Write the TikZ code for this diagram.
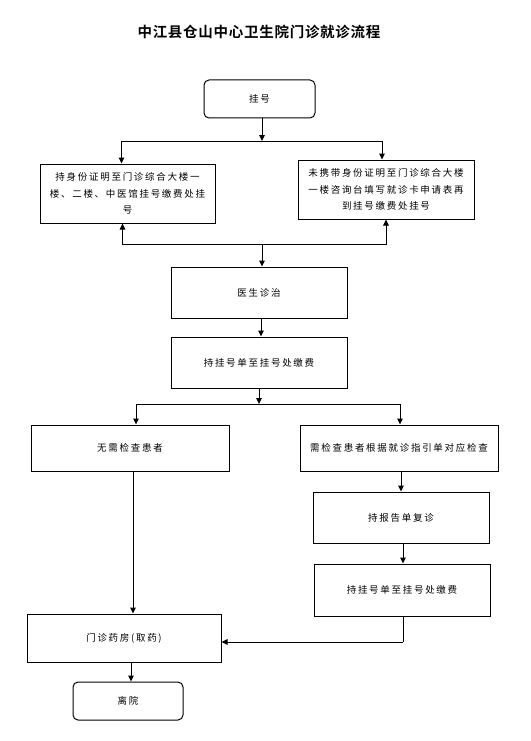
\documentclass[tikz,border=0pt]{standalone}
\usepackage{fontspec}
\usetikzlibrary{arrows.meta,calc}
\newfontfamily\cjk[LetterSpace=18]{Noto Sans CJK SC}
\newfontfamily\cjktitle[LetterSpace=5]{Noto Sans CJK SC Bold}
\begin{document}
\begin{tikzpicture}[x=1pt,y=-1pt,
  box/.style={draw=black,line width=1pt,rectangle,align=center,inner sep=0pt,font=\cjk\fontsize{9.5}{16.5}\selectfont},
  rbox/.style={box,rounded corners=5pt},
  arr/.style={draw=black,line width=1pt,-{Triangle[width=5.5pt,length=6pt]}},
  ln/.style={draw=black,line width=1pt}]
\useasboundingbox (0,0) rectangle (530,741);
\node[font=\cjktitle\fontsize{14.5}{16}\selectfont] (title) at (259,32) {中江县仓山中心卫生院门诊就诊流程};
\node[rbox,minimum width=111pt,minimum height=38pt] (gh) at (259.5,99) {挂号};
\node[box,minimum width=175pt,minimum height=59pt] (L1) at (127.5,193.5) {持身份证明至门诊综合大楼一\\楼、二楼、中医馆挂号缴费处挂\\号};
\node[box,minimum width=176pt,minimum height=59pt] (R1) at (386,189.5) {未携带身份证明至门诊综合大楼\\一楼咨询台填写就诊卡申请表再\\到挂号缴费处挂号};
\node[box,minimum width=176pt,minimum height=51pt] (ys) at (259,292.5) {医生诊治};
\node[box,minimum width=176pt,minimum height=51pt] (jf) at (259,362.5) {持挂号单至挂号处缴费};
\node[box,minimum width=198pt,minimum height=46pt] (wx) at (130,448) {无需检查患者};
\node[box,minimum width=198pt,minimum height=46pt] (xj) at (399,448) {需检查患者根据就诊指引单对应检查};
\node[box,minimum width=176pt,minimum height=51pt] (bg) at (401,517.5) {持报告单复诊};
\node[box,minimum width=176pt,minimum height=52pt] (jf2) at (402,590) {持挂号单至挂号处缴费};
\node[box,minimum width=194pt,minimum height=48pt] (yf) at (124,638) {门诊药房(取药)};
\node[rbox,minimum width=110pt,minimum height=38pt] (ly) at (128,701) {离院};
% junctions
\coordinate (s1) at (262,141);
\coordinate (s2) at (262,244);
\coordinate (s3) at (259,404);
\coordinate (s4) at (403,642);
% connectors
\draw[arr] (gh.south -| s1) -- (s1);
\draw[arr] (s1) -| ([xshift=-6pt]L1.north);
\draw[arr] (s1) -| ([xshift=-4pt]R1.north);
\draw[arr] (s2) -| ([xshift=-5pt]L1.south);
\draw[arr] (s2) -| (R1.south);
\draw[arr] (s2) -- (s2 |- ys.north);
\draw[arr] ([xshift=2pt]ys.south) -- ([xshift=2pt]jf.north);
\draw[arr] (jf.south) -- (s3);
\draw[arr] (s3) -| ([xshift=6pt]wx.north);
\draw[arr] (s3) -| ([xshift=1pt]xj.north);
\draw[arr] ([xshift=2pt]xj.south) -- ([xshift=2pt]xj.south |- bg.north);
\draw[arr] ([xshift=2pt]bg.south) -- ([xshift=2pt]bg.south |- jf2.north);
\draw[ln] (jf2.south -| s4) -- (s4);
\draw[arr] (s4) -- (s4 -| yf.east);
\draw[arr] ([xshift=3pt]wx.south) -- ([xshift=3pt]wx.south |- yf.north);
\draw[arr] ([xshift=3pt]ly.north |- yf.south) -- ([xshift=3pt]ly.north);
\end{tikzpicture}
\end{document}
